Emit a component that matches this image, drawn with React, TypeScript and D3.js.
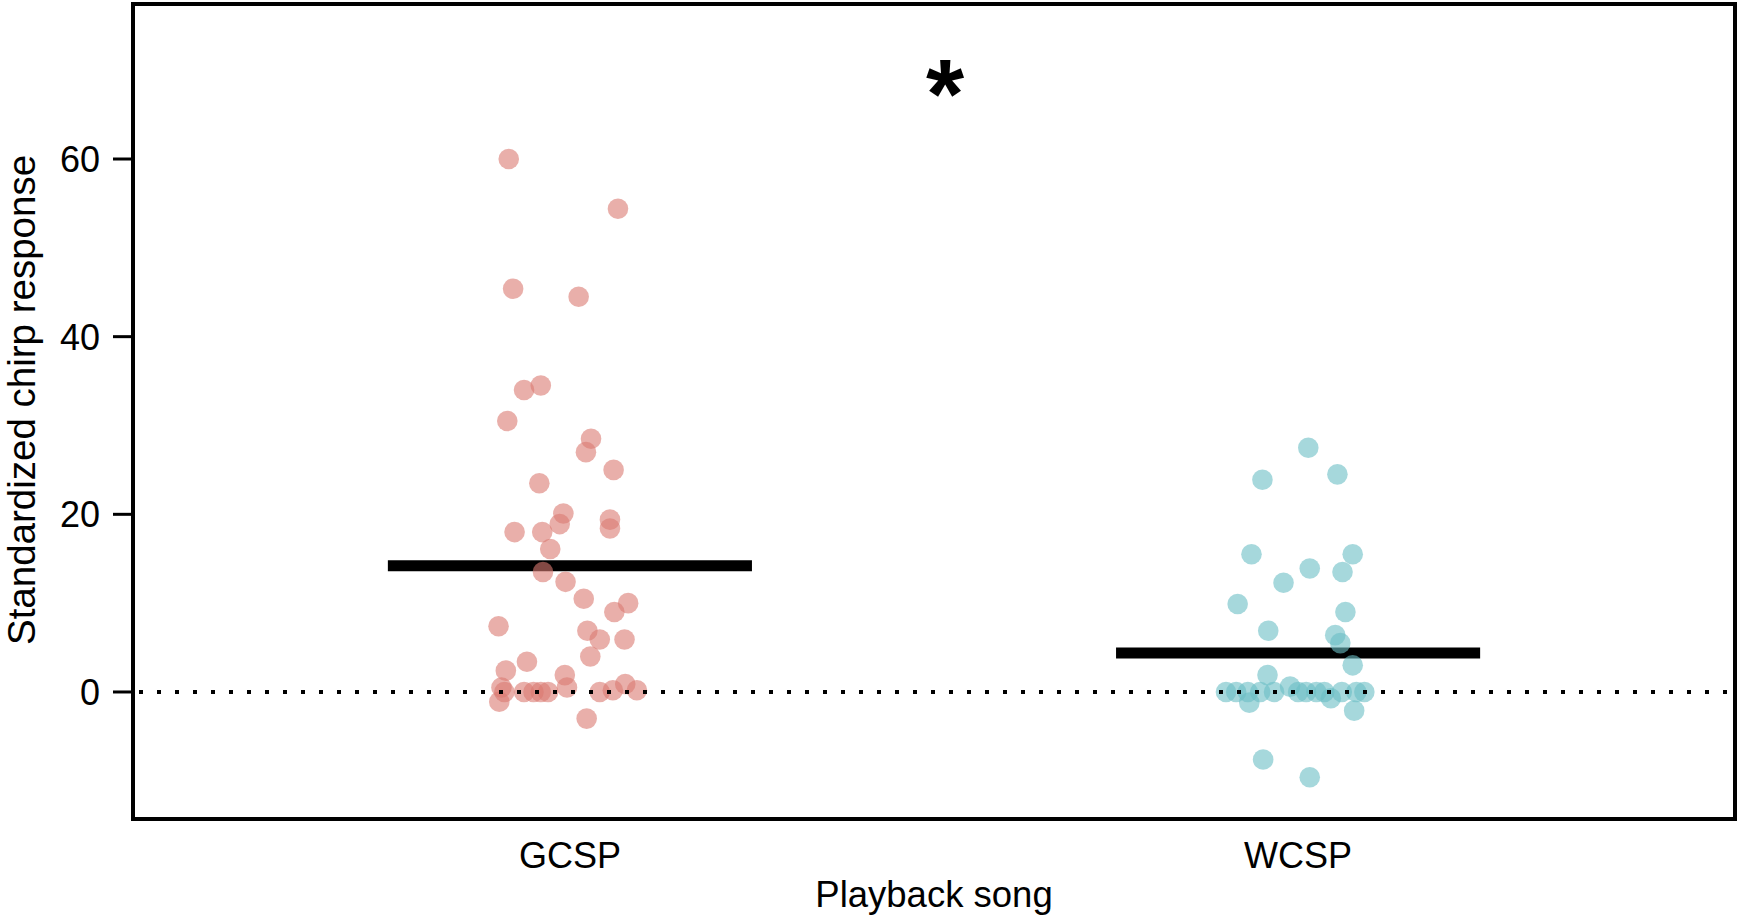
import React, { useEffect, useRef } from "react";
import * as d3 from "d3";

const groups = ["GCSP", "WCSP"];
const groupMeans = [14.2, 4.4];

const gcspValues = [
  60.0, 54.4, 45.4, 44.5, 34.0, 34.5, 30.5, 28.5, 27.0, 25.0, 23.5, 20.1, 18.9, 19.4, 18.4,
  18.0, 18.0, 16.1, 13.5, 12.4, 10.5, 10.0, 9.0, 7.4, 6.9, 5.9, 5.9, 4.0, 3.4, 2.4, 1.9,
  0.5, 0.9, 0.5, 0, -1.1, 0, 0, 0, 0, 0, 0.2, 0.2, -3.0,
];
const gcspJitter = [
  -0.084, 0.066, -0.078, 0.012, -0.063, -0.04, -0.086, 0.029, 0.022, 0.06, -0.042, -0.009,
  -0.014, 0.055, 0.055, -0.076, -0.038, -0.027, -0.037, -0.006, 0.019, 0.08, 0.061, -0.098,
  0.024, 0.041, 0.075, 0.028, -0.059, -0.088, -0.007, -0.004, 0.076, -0.094, -0.09, -0.097,
  -0.063, -0.05, -0.04, -0.03, 0.041, 0.059, 0.092, 0.023,
];

const wcspValues = [
  27.5, 23.9, 24.5, 15.5, 15.5, 13.9, 13.5, 12.3, 9.9, 9.0, 6.9, 6.4, 5.5, 1.9, 3.0, -2.1,
  -1.2, -7.6, -9.6, 0, 0, 0, 0, 0, 0.6, 0, 0, 0, 0, -0.7, 0, 0, 0,
];
const wcspJitter = [
  0.014, -0.049, 0.054, -0.064, 0.075, 0.016, 0.061, -0.02, -0.083, 0.065, -0.041, 0.051,
  0.058, -0.042, 0.075, 0.077, -0.067, -0.048, 0.016, -0.099, -0.085, -0.069, -0.052, -0.033,
  -0.011, 0.0, 0.011, 0.025, 0.036, 0.045, 0.06, 0.08, 0.091,
];

const yTicks = [0, 20, 40, 60];
const pointColors = ["#DA7A72", "#6BBEC5"];

const App = () => {
  const svgRef = useRef(null);

  useEffect(() => {
    document.body.style.margin = "0";
    const svg = d3.select(svgRef.current);
    svg.selectAll("*").remove();

    const left = 133, right = 1735, top = 4, bottom = 819;
    const font = "'Liberation Sans', Arial, Helvetica, sans-serif";

    const x = d3.scaleLinear().domain([0.4, 2.6]).range([left, right]);
    const y = d3.scaleLinear().domain([-14.3, 77.45]).range([bottom, top]);

    const points = [
      ...gcspValues.map((v, i) => ({ g: 0, v, j: gcspJitter[i] })),
      ...wcspValues.map((v, i) => ({ g: 1, v, j: wcspJitter[i] })),
    ];

    // mean bars
    svg
      .selectAll("line.mean")
      .data(groupMeans)
      .join("line")
      .attr("class", "mean")
      .attr("x1", (d, i) => x(i + 1 - 0.25))
      .attr("x2", (d, i) => x(i + 1 + 0.25))
      .attr("y1", (d) => y(d))
      .attr("y2", (d) => y(d))
      .attr("stroke", "#000")
      .attr("stroke-width", 11);

    svg
      .selectAll("circle.pt")
      .data(points)
      .join("circle")
      .attr("class", "pt")
      .attr("cx", (d) => x(d.g + 1 + d.j))
      .attr("cy", (d) => y(d.v))
      .attr("r", 10.3)
      .attr("fill", (d) => pointColors[d.g])
      .attr("fill-opacity", 0.6);

    // zero reference line
    svg
      .append("line")
      .attr("x1", left + 6)
      .attr("x2", right)
      .attr("y1", y(0))
      .attr("y2", y(0))
      .attr("stroke", "#000")
      .attr("stroke-width", 4)
      .attr("stroke-dasharray", "4 14");

    svg
      .append("rect")
      .attr("x", left)
      .attr("y", top)
      .attr("width", right - left)
      .attr("height", bottom - top)
      .attr("fill", "none")
      .attr("stroke", "#000")
      .attr("stroke-width", 4);

    const yAxis = svg.append("g");
    yAxis
      .selectAll("line")
      .data(yTicks)
      .join("line")
      .attr("x1", left - 20)
      .attr("x2", left)
      .attr("y1", (d) => y(d))
      .attr("y2", (d) => y(d))
      .attr("stroke", "#000")
      .attr("stroke-width", 3);
    yAxis
      .selectAll("text")
      .data(yTicks)
      .join("text")
      .attr("x", 100)
      .attr("y", (d) => y(d))
      .attr("dy", "0.36em")
      .attr("text-anchor", "end")
      .style("font-family", font)
      .style("font-size", "36px")
      .text((d) => d);

    svg
      .selectAll("text.xlab")
      .data(groups)
      .join("text")
      .attr("class", "xlab")
      .attr("x", (d, i) => x(i + 1))
      .attr("y", 868)
      .attr("text-anchor", "middle")
      .style("font-family", font)
      .style("font-size", "36px")
      .text((d) => d);

    svg
      .append("text")
      .attr("x", (left + right) / 2)
      .attr("y", 907)
      .attr("text-anchor", "middle")
      .style("font-family", font)
      .style("font-size", "36.5px")
      .text("Playback song");

    svg
      .append("text")
      .attr("transform", "translate(35,400) rotate(-90)")
      .attr("text-anchor", "middle")
      .style("font-family", font)
      .style("font-size", "38.5px")
      .text("Standardized chirp response");

    svg
      .append("text")
      .attr("x", 945)
      .attr("y", 128)
      .attr("text-anchor", "middle")
      .style("font-family", font)
      .style("font-weight", "bold")
      .style("font-size", "98px")
      .text("*");
  }, []);

  return <svg ref={svgRef} width={1738} height={920} style={{ display: "block", background: "#fff" }} />;
};

export default App;
